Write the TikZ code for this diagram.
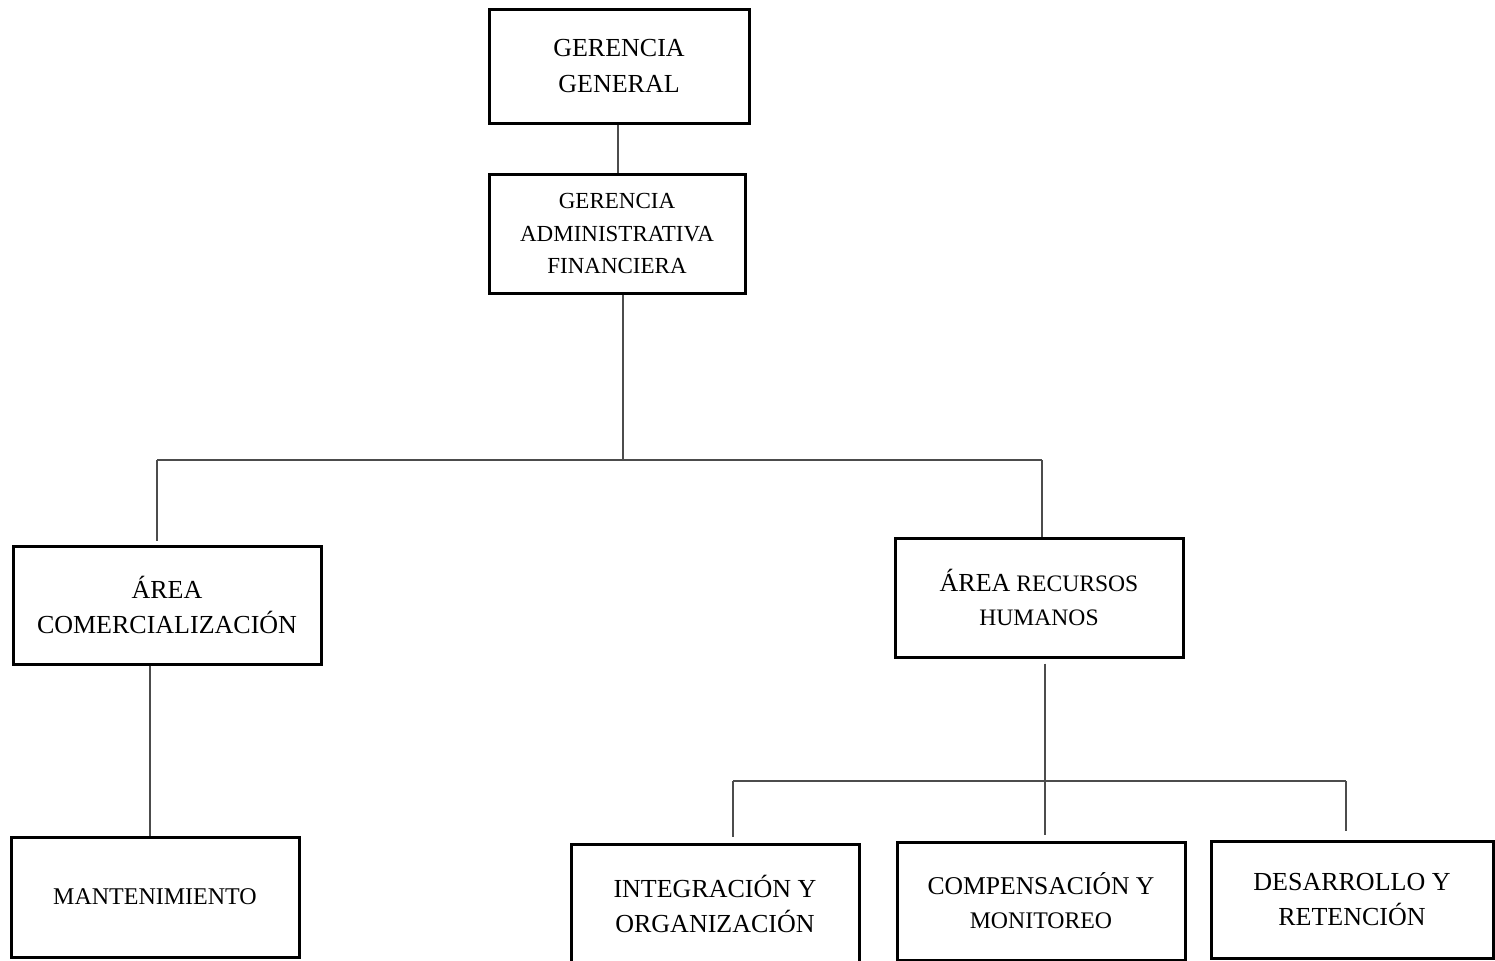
\documentclass[tikz,border=0pt]{standalone}
\usepackage{fontspec}
\setmainfont{Liberation Serif}
\begin{document}
\begin{tikzpicture}[x=0.5pt,y=-0.5pt,
  box/.style={draw=black, line width=1.5pt, fill=white, align=center, inner sep=0pt},
  link/.style={draw=black!70, line width=0.8pt},
  big/.style={font=\fontsize{13}{17.5}\selectfont},
  small/.style={font=\fontsize{11.5}{16.25}\selectfont}]
\useasboundingbox (0,0) rectangle (1495,960);

% boxes (centres in px, sizes in pt)
\node[box, big, minimum width=130pt, minimum height=57pt] (gg) at (619,66)
  {GERENCIA\\[0.5pt]GENERAL};
\node[box, small, minimum width=128pt, minimum height=59.5pt] (gaf) at (617,233.5)
  {GERENCIA\\ADMINISTRATIVA\\FINANCIERA};
\node[box, big, minimum width=154pt, minimum height=59pt] (ac) at (167,605)
  {ÁREA\\COMERCIALIZACIÓN};
\node[box, font=\fontsize{11.8}{17}\selectfont, minimum width=144pt, minimum height=59.5pt] (arh) at (1039,597.5)
  {{\fontsize{13}{17}\selectfont ÁREA} RECURSOS\\HUMANOS};
\node[box, font=\fontsize{12}{17}\selectfont, minimum width=144pt, minimum height=60pt] (mant) at (155,897)
  {MANTENIMIENTO};
\node[box, big, minimum width=144pt, minimum height=59pt] (int) at (715,903.5)
  {INTEGRACIÓN Y\\ORGANIZACIÓN};
\node[box, font=\fontsize{11.9}{17}\selectfont, minimum width=144pt, minimum height=59pt] (comp) at (1041,901)
  {{\fontsize{12.8}{17}\selectfont COMPENSACIÓN Y}\\MONITOREO};
\node[box, big, minimum width=141pt, minimum height=58.5pt] (des) at (1352,899.5)
  {DESARROLLO Y\\RETENCIÓN};

% junction points of the connectors
\coordinate (j0) at (618,150);
\coordinate (j1) at (623,460);
\coordinate (jl) at (157,460);
\coordinate (jr) at (1042,460);
\coordinate (j2) at (1045,781);
\coordinate (kl) at (733,781);
\coordinate (kr) at (1346,781);
\coordinate (m) at (150,750);

% connectors
\draw[link] (gg.south -| j0) -- (gaf.north -| j0);
\draw[link] (gaf.south -| j1) -- (j1);
\draw[link] (jl) -- (jr);
\draw[link, shorten >=2pt] (jl) -- (ac.north -| jl);
\draw[link] (jr) -- (arh.north -| jr);
\draw[link] (ac.south -| m) -- (mant.north -| m);
\draw[link, shorten <=2.5pt, shorten >=3pt] (arh.south -| j2) -- (comp.north -| j2);
\draw[link] (kl) -- (kr);
\draw[link, shorten >=3pt] (kl) -- (int.north -| kl);
\draw[link, shorten >=4.5pt] (kr) -- (des.north -| kr);
\end{tikzpicture}
\end{document}
